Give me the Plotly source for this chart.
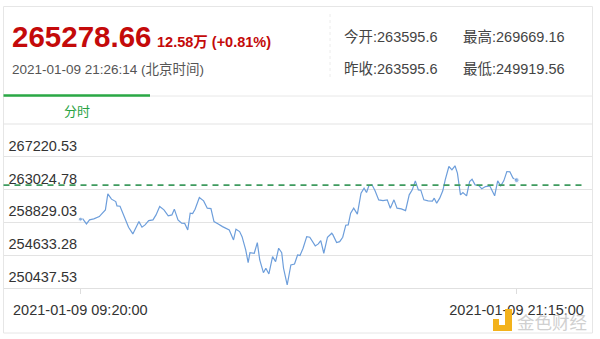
import plotly.graph_objects as go

DAY = "2021-01-09"
times = ["09:20","09:24","09:30","09:35","09:42","09:51","09:55","10:01","10:05","10:11",
         "10:18","10:20","10:25","10:32","10:39","10:46","10:51","10:56","11:01","11:06",
         "11:12","11:19","11:24","11:30","11:37","11:44","11:50","11:54","12:00","12:06",
         "12:11","12:16","12:20","12:24","12:28","12:35","12:42","12:48","12:54","12:59",
         "13:06","13:13","13:24","13:31","13:35","13:41","13:45","13:51","13:55","13:58",
         "14:05","14:10","14:14","14:20","14:24","14:29","14:35","14:40","14:45","14:50",
         "14:53","14:59","15:05","15:11","15:16","15:20","15:25","15:31","15:36","15:45",
         "15:50","15:54","15:59","16:05","16:12","16:14","16:20","16:25","16:30","16:35",
         "16:39","16:43","16:48","16:54","17:00","17:05","17:09","17:13","17:18","17:23",
         "17:29","17:36","17:43","17:48","17:54","17:59","18:06","18:13","18:19","18:24",
         "18:29","18:34","18:38","18:43","18:50","18:57","19:00","19:04","19:09","19:14",
         "19:18","19:24","19:29","19:34","19:38","19:43","19:47","19:53","19:58","20:02",
         "20:07","20:13","20:18","20:24","20:31","20:39","20:44","20:49","20:54","20:59",
         "21:04","21:09","21:15"]
prices = [259240,259278,258638,259150,259278,259573,259918,260431,262481,261802,
          261495,260943,260900,259573,258214,257356,258086,258932,258214,258509,
          259060,259150,259790,260854,260431,259662,259790,260521,259150,258727,
          258700,257868,260008,259950,260521,262007,261584,260649,260600,258932,
          258637,258291,257868,256587,257958,257651,257010,255306,253679,254960,
          254883,256241,254025,252398,252961,252231,254448,253807,255524,254960,
          252961,250822,253384,253512,254665,254600,255524,257010,256933,255819,
          256075,256498,254883,256933,257446,257228,256241,256370,256933,258471,
          258500,260008,260649,259880,262571,263211,262648,263544,263634,262865,
          261712,261622,261712,260649,261712,260649,260559,260341,262353,262993,
          264146,262993,262950,261712,261584,261550,261930,261289,261930,262865,
          264275,265979,265556,266068,265133,262353,262648,262225,264057,264364,
          263634,263550,263122,263416,263506,262225,264146,263506,264146,265338,
          265300,264492,264236]

prev_close = 263595.6
y_ticks = [250437.53, 254633.28, 258829.03, 263024.78, 267220.53]
y_tick_text = ["250437.53", "254633.28", "258829.03", "263024.78", "267220.53"]
y_range = [250437.53, 271416.28]
x_ticks = ["09:20:00", "21:15:00"]
x_range = ["07:14:00", "23:19:24"]

last_price = "265278.66"
change_text = "12.58万 (+0.81%)"
time_text = "2021-01-09 21:26:14 (北京时间)"
stats = [("今开:263595.6", 342, 37), ("最高:269669.16", 461, 37),
         ("昨收:263595.6", 342, 69), ("最低:249919.56", 461, 69)]

W, H = 600, 339
FONT = "Liberation Sans, Arial, Noto Sans CJK SC, sans-serif"
CJK = "Noto Sans CJK SC, Liberation Sans, sans-serif"

def px(x):
    return x / W

def py(y):
    return 1 - y / H

xs = [f"{DAY} {t}" for t in times]
marker_sizes = [0] * len(xs)
marker_sizes[0] = 4
marker_sizes[-1] = 5

fig = go.Figure()
fig.add_trace(go.Scatter(
    x=xs, y=prices, mode="lines+markers",
    line=dict(color="#6d9edb", width=1.2),
    marker=dict(size=marker_sizes, color="#6d9edb"),
    hoverinfo="skip", showlegend=False,
))

shapes = []
# outer frame
shapes.append(dict(type="rect", xref="paper", yref="paper", x0=px(3.5), x1=px(592.5),
                   y0=py(333), y1=py(6.5), line=dict(color="#e6e6e6", width=1)))
# header separator
shapes.append(dict(type="line", xref="paper", yref="paper", x0=px(330), x1=px(330),
                   y0=py(14), y1=py(80), line=dict(color="#ececec", width=1, dash="dot")))
# tab line
shapes.append(dict(type="line", xref="paper", yref="paper", x0=px(3.5), x1=px(592.5),
                   y0=py(96), y1=py(96), line=dict(color="#e8e8e8", width=1)))
shapes.append(dict(type="line", xref="paper", yref="paper", x0=px(3.5), x1=px(150),
                   y0=py(95.5), y1=py(95.5), line=dict(color="#2aa845", width=2.5)))
# top line of chart area
shapes.append(dict(type="line", xref="paper", yref="paper", x0=px(3.5), x1=px(592.5),
                   y0=py(124), y1=py(124), line=dict(color="#e3e3e3", width=1)))
# previous close dashed line
shapes.append(dict(type="line", xref="paper", yref="y", x0=px(3.5), x1=px(583),
                   y0=prev_close, y1=prev_close,
                   line=dict(color="#3e9a5e", width=1.6, dash="6px,5px")))
# watermark logo
shapes.append(dict(type="rect", xref="paper", yref="paper", x0=px(505), x1=px(512),
                   y0=py(331), y1=py(309), fillcolor="#f3b21b", line=dict(width=0)))
shapes.append(dict(type="rect", xref="paper", yref="paper", x0=px(493), x1=px(512),
                   y0=py(331), y1=py(325), fillcolor="#f3b21b", line=dict(width=0)))
shapes.append(dict(type="rect", xref="paper", yref="paper", x0=px(493), x1=px(499),
                   y0=py(326), y1=py(319), fillcolor="#f3b21b", line=dict(width=0)))

annotations = []
def text(t, x, y, size, color, bold=False, family=FONT, xanchor="left"):
    annotations.append(dict(text=f"<b>{t}</b>" if bold else t, x=px(x), y=py(y),
                            xref="paper", yref="paper", xanchor=xanchor, yanchor="middle",
                            showarrow=False, font=dict(size=size, color=color, family=family)))

text(last_price, 10, 37, 29.5, "#c40a0a", bold=True)
text(change_text, 155, 42, 14.5, "#c40a0a", bold=True)
text(time_text, 10, 69, 13.5, "#555555")
for s, x, y in stats:
    text(s, x, y, 14.5, "#444444")
text("分时", 62, 110, 13, "#27a243", family=CJK)
text("金色财经", 515, 321, 17.5, "#d0d0d0", family=CJK)

fig.update_layout(
    width=W, height=H,
    margin=dict(l=0, r=0, t=0, b=0),
    paper_bgcolor="white", plot_bgcolor="white",
    shapes=shapes, annotations=annotations,
    xaxis=dict(
        domain=[px(3.5), px(592.5)], type="date",
        range=[f"{DAY} {x_range[0]}", f"{DAY} {x_range[1]}"],
        tickvals=[f"{DAY} {t}" for t in x_ticks],
        ticktext=[f"{DAY} {t}" for t in x_ticks],
        showgrid=False, zeroline=False,
        showline=True, linecolor="#e0e0e0", linewidth=1,
        ticks="outside", ticklen=5, tickcolor="#dddddd", tickwidth=1,
        ticklabelstandoff=4,
        tickfont=dict(size=14.5, color="#333333", family=FONT),
    ),
    yaxis=dict(
        domain=[1 - 288 / H, 1 - 124 / H],
        range=y_range, tickvals=y_ticks, ticktext=y_tick_text,
        showgrid=True, gridcolor="#e3e3e3", gridwidth=1, zeroline=False,
        showline=False, ticks="",
        ticklabelposition="inside", ticklabelshift=-11, ticklabelstandoff=2,
        tickfont=dict(size=14.5, color="#333333", family=FONT),
    ),
)

fig.write_html("out.html")
